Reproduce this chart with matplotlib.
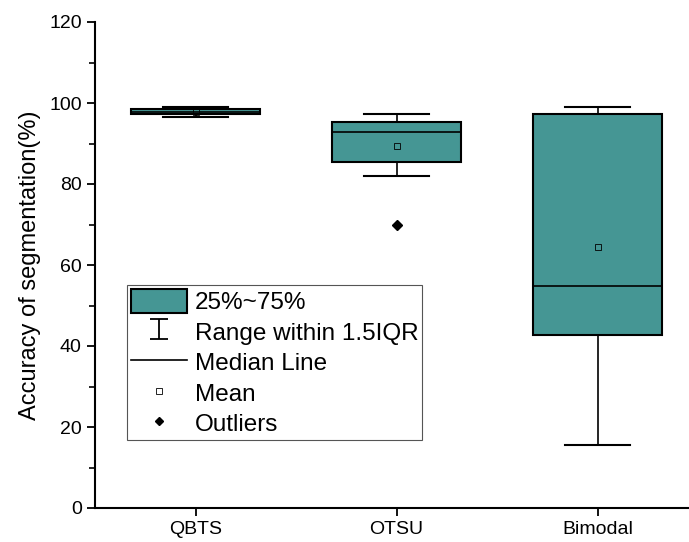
import matplotlib
matplotlib.use('Agg')
import matplotlib.pyplot as plt
from matplotlib.lines import Line2D
from matplotlib.patches import Patch
from matplotlib.path import Path

plt.rcParams['font.family'] = ['Liberation Sans', 'DejaVu Sans']

# box statistics (%)
methods = ['QBTS', 'OTSU', 'Bimodal']
whisker_low = [96.5, 82.0, 15.5]
q1 = [97.3, 85.5, 42.7]
medians = [97.9, 92.8, 54.8]
q3 = [98.4, 95.4, 97.4]
whisker_high = [99.0, 97.3, 98.9]
means = [97.9, 89.4, 64.4]
outliers = [[], [70.0], []]

teal = '#459694'

stats = []
for i, name in enumerate(methods):
    stats.append({'label': name, 'whislo': whisker_low[i], 'q1': q1[i],
                  'med': medians[i], 'q3': q3[i], 'whishi': whisker_high[i],
                  'mean': means[i], 'fliers': outliers[i]})

fig = plt.figure(figsize=(6.89, 5.42), dpi=100)
ax = fig.add_axes([95 / 689, 34 / 542, 594 / 689, 486 / 542])

ax.bxp(stats, positions=[1, 2, 3], widths=0.64, patch_artist=True,
       showmeans=True,
       boxprops=dict(facecolor=teal, edgecolor='black', linewidth=1.5),
       medianprops=dict(color='black', linewidth=1.2),
       whiskerprops=dict(color='black', linewidth=1.2),
       capprops=dict(color='black', linewidth=1.5),
       capwidths=0.32,
       meanprops=dict(marker='s', markersize=4, markerfacecolor='none',
                      markeredgecolor='black', markeredgewidth=0.6),
       flierprops=dict(marker='D', markersize=5, markerfacecolor='black',
                       markeredgecolor='black'))

ax.set_xlim(0.5, 3.455)
ax.set_ylim(0, 120)
ax.set_yticks([0, 20, 40, 60, 80, 100, 120])
ax.set_yticks([10, 30, 50, 70, 90, 110], minor=True)
ax.set_xticks([1, 2, 3])
ax.set_xticklabels(methods)
ax.tick_params(axis='both', which='major', direction='out', length=6,
               width=1.3, labelsize=14)
ax.tick_params(axis='y', which='minor', direction='out', length=4, width=1.2)
ax.set_ylabel('Accuracy of segmentation(%)', fontsize=17, labelpad=6)

for side in ['top', 'right']:
    ax.spines[side].set_visible(False)
for side in ['left', 'bottom']:
    ax.spines[side].set_linewidth(1.5)

# I-shaped marker for the whisker range
i_path = Path([(-0.85, 1), (0.85, 1), (0, 1), (0, -1), (-0.85, -1), (0.85, -1)],
              [Path.MOVETO, Path.LINETO, Path.MOVETO, Path.LINETO,
               Path.MOVETO, Path.LINETO])

handles = [
    Patch(facecolor=teal, edgecolor='black', linewidth=1.5),
    Line2D([], [], linestyle='none', marker=i_path, markersize=15,
           markeredgecolor='black', markeredgewidth=1.3),
    Line2D([], [], color='black', linewidth=1.2),
    Line2D([], [], linestyle='none', marker='s', markersize=4,
           markerfacecolor='none', markeredgecolor='black',
           markeredgewidth=0.6),
    Line2D([], [], linestyle='none', marker='D', markersize=4,
           color='black'),
]
labels = ['25%~75%', 'Range within 1.5IQR', 'Median Line', 'Mean', 'Outliers']
legend = ax.legend(handles, labels, loc='upper left',
                   bbox_to_anchor=(0.054, 0.459), borderaxespad=0,
                   fontsize=17.5, fancybox=False, edgecolor='#555555',
                   handlelength=2.3, handleheight=1.15, labelspacing=0.22,
                   handletextpad=0.35, borderpad=0.15, framealpha=1)
legend.get_frame().set_linewidth(0.8)

fig.savefig('out.png', dpi=100)
